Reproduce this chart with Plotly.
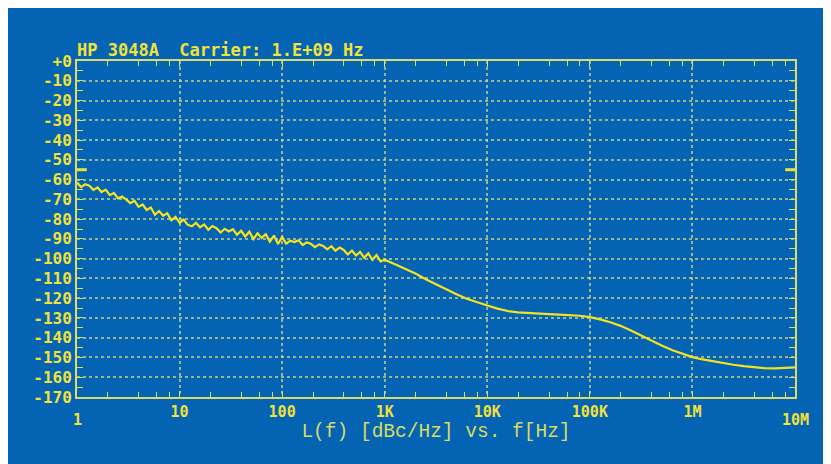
import math
import plotly.graph_objects as go

# ---------------- data ----------------
FREQ_HZ = [
    1.000, 1.096, 1.202, 1.318, 1.445, 1.585, 1.738, 1.905, 2.089, 2.291,
    2.512, 2.754, 3.020, 3.311, 3.631, 3.981, 4.365, 4.786, 5.248, 5.754,
    6.310, 6.918, 7.586, 8.318, 9.120,
    10.00, 10.96, 12.02, 13.18, 14.45, 15.85, 17.38, 19.05, 20.89, 22.91,
    25.12, 27.54, 30.20, 33.11, 36.31, 39.81, 43.65, 47.86, 52.48, 57.54,
    63.10, 69.18, 75.86, 83.18, 91.20,
    100.0, 109.6, 120.2, 131.8, 144.5, 158.5, 173.8, 190.5, 208.9, 229.1,
    251.2, 275.4, 302.0, 331.1, 363.1, 398.1, 436.5, 478.6, 524.8, 575.4,
    631.0, 691.8, 758.6, 831.8, 912.0,
    1000, 1259, 1585, 1995, 2512, 3162, 3981, 5012, 6310, 7943,
    10000, 12590, 15850, 19950, 25120, 31620, 39810, 50120, 63100, 79430,
    100000, 125900, 158500, 199500, 251200, 316200, 398100, 501200, 631000, 794300,
    1000000, 1259000, 1585000, 1995000, 2512000, 3162000, 3981000, 5012000, 6310000, 7943000,
    10000000,
]

PHASE_NOISE_DBC = [
    -61.5, -63.8, -62.4, -63.1, -65.2, -64.0, -66.3, -65.1, -67.9, -66.8,
    -69.5, -68.6, -70.1, -71.9, -70.7, -73.8, -72.6, -75.4, -74.1, -77.8,
    -75.9, -78.3, -77.0, -80.6, -78.9,
    -81.8, -80.2, -82.9, -83.6, -81.9, -84.1, -82.7, -85.4, -83.5, -84.6,
    -86.8, -84.9, -86.2, -85.1, -87.9, -85.9, -88.8, -86.4, -90.1, -87.2,
    -89.5, -87.6, -91.4, -88.3, -92.6,
    -89.0, -92.4, -90.9, -91.6, -90.7, -93.1, -91.8, -92.5, -94.2, -92.8,
    -93.6, -95.3, -93.7, -96.0, -94.4, -95.6, -97.9, -95.9, -98.4, -96.6,
    -99.5, -97.3, -100.6, -98.2, -101.4,
    -100.5, -102.8, -105.0, -107.5, -110.4, -113.0, -115.6, -118.0, -120.3, -122.2,
    -123.7, -125.3, -126.5, -127.2, -127.6, -127.9, -128.1, -128.3, -128.5, -128.9,
    -129.6, -130.7, -132.2, -134.0, -136.3, -139.0, -141.6, -144.0, -146.2, -148.2,
    -149.8, -151.0, -152.0, -152.9, -153.7, -154.4, -155.0, -155.4, -155.5, -155.3,
    -155.0,
]

REF_FREQ = [1, 10000000]
REF_LEVEL = [-55, -55]

Y_TICK_VALUES = [0, -10, -20, -30, -40, -50, -60, -70, -80, -90, -100,
                 -110, -120, -130, -140, -150, -160, -170]
Y_TICK_LABELS = ["+0", "-10", "-20", "-30", "-40", "-50", "-60", "-70", "-80",
                 "-90", "-100", "-110", "-120", "-130", "-140", "-150", "-160", "-170"]
Y_MINOR_VALUES = [-5, -15, -25, -35, -45, -55, -65, -75, -85, -95, -105,
                  -115, -125, -135, -145, -155, -165]

X_TICK_VALUES = [10, 100, 1000, 10000, 100000, 1000000]
X_TICK_LABELS = ["10", "100", "1K", "10K", "100K", "1M"]
X_END_VALUES = [1, 10000000]
X_END_LABELS = ["1", "10M"]
X_MINOR_VALUES = [m * d for d in [1, 10, 100, 1000, 10000, 100000, 1000000]
                  for m in [2, 4, 6, 8]]

TITLE = "HP 3048A  Carrier: 1.E+09 Hz"
X_TITLE = "L(f) [dBc/Hz] vs. f[Hz]"

# ---------------- style ----------------
BLUE = "#0563B4"
YELLOW = "#F4E41E"
LABEL_YELLOW = "#F0E238"
AXIS_YELLOW = "#D9DC6A"
GRID = "rgba(215,220,130,0.7)"
MONO_BOLD = "DejaVu Sans Mono"

fig = go.Figure()

fig.add_trace(go.Scatter(
    x=FREQ_HZ, y=PHASE_NOISE_DBC, mode="lines",
    line=dict(color=YELLOW, width=2.2), showlegend=False,
))
fig.add_trace(go.Scatter(
    x=REF_FREQ, y=REF_LEVEL, mode="markers",
    marker=dict(symbol="line-ew", size=14, line=dict(color=YELLOW, width=3)),
    showlegend=False, cliponaxis=True,
))

# end tick labels sit lower than the others
for xv, txt in zip(X_END_VALUES, X_END_LABELS):
    fig.add_annotation(
        x=math.log10(xv), y=0, xref="x", yref="paper",
        text=txt, showarrow=False, yanchor="top", yshift=-12,
        font=dict(family=MONO_BOLD, size=15, color=LABEL_YELLOW, weight="bold"),
    )

fig.update_layout(
    width=831, height=464,
    margin=dict(l=69, r=44, t=53, b=75),
    paper_bgcolor=BLUE,
    plot_bgcolor=BLUE,
    title=dict(text=TITLE, x=0.0, xref="paper", xanchor="left",
               y=1, yref="paper", yanchor="bottom", pad=dict(b=5),
               font=dict(family=MONO_BOLD, size=17, color=LABEL_YELLOW, weight="bold")),
    xaxis=dict(
        type="log", range=[0, 7],
        tickmode="array", tickvals=X_TICK_VALUES, ticktext=X_TICK_LABELS,
        ticks="inside", ticklen=6, tickcolor=AXIS_YELLOW, tickwidth=1,
        tickfont=dict(family=MONO_BOLD, size=15, color=LABEL_YELLOW, weight="bold"),
        showline=True, linecolor=AXIS_YELLOW, linewidth=2, mirror="ticks",
        showgrid=True, gridcolor=GRID, griddash="dot", gridwidth=1.5,
        zeroline=False,
        minor=dict(tickmode="array", tickvals=X_MINOR_VALUES, ticks="inside",
                   ticklen=5, tickcolor=AXIS_YELLOW, showgrid=False),
        title=dict(text=X_TITLE, standoff=3,
                   font=dict(family="Liberation Mono", size=19.5, color="#D4DC62")),
    ),
    yaxis=dict(
        range=[-170, 0],
        tickmode="array", tickvals=Y_TICK_VALUES, ticktext=Y_TICK_LABELS,
        ticks="inside", ticklen=6, tickcolor=AXIS_YELLOW, tickwidth=1,
        tickfont=dict(family=MONO_BOLD, size=16, color=LABEL_YELLOW, weight="bold"),
        showline=True, linecolor=AXIS_YELLOW, linewidth=2, mirror="ticks",
        showgrid=True, gridcolor=GRID, griddash="dot", gridwidth=1.5,
        zeroline=False,
        minor=dict(tickmode="array", tickvals=Y_MINOR_VALUES, ticks="inside",
                   ticklen=6, tickcolor=AXIS_YELLOW, showgrid=False),
    ),
)

fig.write_html("out.html")
